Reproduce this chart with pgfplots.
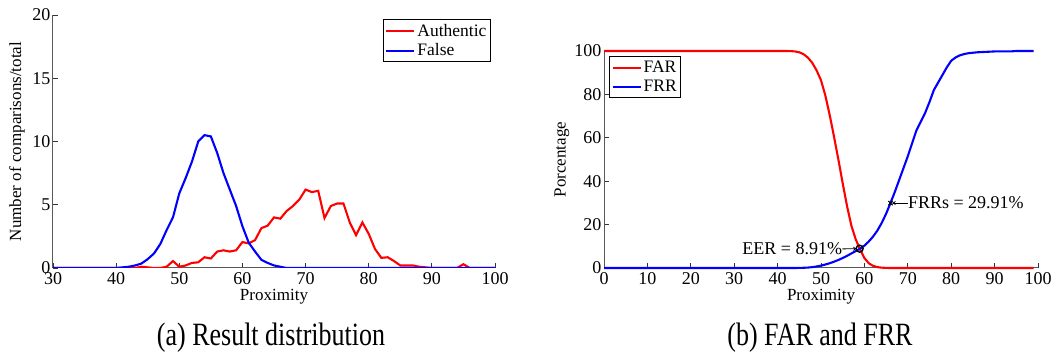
\documentclass[border=0pt]{standalone}
\usepackage{fontspec}
\setmainfont{Liberation Serif}
\usepackage{pgfplots}
\pgfplotsset{compat=1.18}
\begin{document}
\begin{tikzpicture}
\path[use as bounding box] (0pt,0pt) rectangle (1055pt,-355pt);
\pgfplotsset{
  mystyle/.style={
    scale only axis,
    axis x line=bottom, axis y line=left,
    axis line style={-, draw=gray!70!black, line width=1pt},
    tick align=inside,
    major tick length=4.5pt,
    every tick/.style={draw=gray!40!black, line width=0.8pt},
    /pgf/number format/assume math mode=true,
    tick label style={font=\fontsize{18}{18}\selectfont},
    label style={font=\fontsize{17}{17}\selectfont},
    xticklabel style={yshift=-1pt},
    yticklabel style={xshift=1pt},
    legend style={draw=black, line width=1.2pt, font=\fontsize{17.5}{19}\selectfont,
       inner xsep=2pt, inner ysep=2.5pt, row sep=2pt, cells={anchor=west}},
    legend image code/.code={\draw[#1] (0pt,0pt) -- (28pt,0pt);},
  }
}
% ---------------- left
\begin{axis}[mystyle,
  at={(53pt,-268pt)}, anchor=south west,
  width=442pt, height=253pt,
  xmin=30, xmax=100, ymin=0, ymax=20,
  xtick={30,40,...,100}, ytick={0,5,...,20},
  xlabel={Proximity}, ylabel={Number of comparisons/total},
  xlabel style={at={(axis description cs:0.5,-0.115)}, anchor=center},
  ylabel style={at={(axis description cs:-0.0814,0.5)}, anchor=center},
  legend style={at={(axis description cs:1,1)}, anchor=north east, xshift=-4pt, yshift=-4pt},
]
\addlegendimage{red, line width=2pt}
\addlegendentry{Authentic}
\addlegendimage{blue, line width=2pt}
\addlegendentry{False}
\addplot[red, line width=2.1pt, forget plot] coordinates {
(30,0)(43,0)(44,0.1)(45,0.05)(46,0)(47,0)(48,0.1)(49,0.55)(50,0.1)(51,0.2)(52,0.4)(53,0.45)
(54,0.85)(55,0.75)(56,1.3)(57,1.4)(58,1.3)(59,1.4)(60,2.05)(61,1.95)(62,2.2)(63,3.15)
(64,3.35)(65,4.0)(66,3.9)(67,4.5)(68,4.9)(69,5.4)(70,6.2)(71,6.0)(72,6.1)(73,3.95)
(74,4.9)(75,5.1)(76,5.1)(77,3.6)(78,2.6)(79,3.6)(80,2.7)(81,1.5)(82,0.8)(83,0.85)
(84,0.55)(85,0.2)(86,0.2)(87,0.2)(88,0.1)(89,0.05)(90,0)(94,0)(95,0.3)(96,0)(100,0)
};
\addplot[blue, line width=2.1pt, forget plot] coordinates {
(30,0)(40,0)(41,0.05)(42,0.1)(43,0.2)(44,0.35)(45,0.7)(46,1.15)(47,1.9)(48,3.0)(49,4.0)
(50,5.9)(51,7.1)(52,8.4)(53,10.0)(54,10.5)(55,10.4)(56,9.1)(57,7.5)(58,6.2)(59,4.9)
(60,3.3)(61,2.0)(62,1.3)(63,0.65)(64,0.4)(65,0.2)(66,0.1)(67,0)(100,0)
};
\end{axis}
% ---------------- right
\begin{axis}[mystyle,
  at={(604pt,-268pt)}, anchor=south west,
  width=434pt, height=217pt,
  xmin=0, xmax=100, ymin=0, ymax=100,
  xtick={0,10,...,100}, ytick={0,20,...,100},
  xlabel={Proximity}, ylabel={Porcentage},
  xlabel style={at={(axis description cs:0.5,-0.1336)}, anchor=center},
  ylabel style={at={(axis description cs:-0.0968,0.5)}, anchor=center},
  legend style={at={(axis description cs:0,1)}, anchor=north west, xshift=5pt, yshift=-5pt},
  clip=false,
]
\addlegendimage{red, line width=2pt}
\addlegendentry{FAR}
\addlegendimage{blue, line width=2pt}
\addlegendentry{FRR}
\addplot[red, line width=2.1pt, forget plot] coordinates {
(0,100)(42,100)(43,99.95)(44,99.8)(45,99.4)(46,98.5)(47,96.9)(48,94.5)(49,91)(50,86.5)
(51,79.5)(52,70.5)(53,60.5)(54,50)(55,39)(56,28.5)(57,19.5)(58,13.2)(59,8.6)(60,4.6)
(61,2.2)(62,1.0)(63,0.4)(64,0.15)(65,0.05)(66,0)(99,0)
};
\addplot[blue, line width=2.1pt, forget plot] coordinates {
(0,0)(44,0)(45,0.05)(46,0.1)(47,0.2)(48,0.4)(49,0.7)(50,1.1)(51,1.6)(52,2.2)(53,2.9)
(54,3.7)(55,4.6)(56,5.6)(57,6.7)(58,7.8)(59,8.91)(60,10.3)(61,12.2)(62,14.5)(63,17.3)
(64,20.8)(65,25)(66,29.91)(67,35)(68,40.5)(69,46)(70,51.5)(71,57.5)(72,63.5)(73,67.5)
(74,71.5)(75,76.5)(76,82)(77,85.5)(78,89)(79,92.5)(80,95.5)(81,97)(82,98)(83,98.6)
(84,99)(86,99.4)(88,99.6)(90,99.8)(94,99.85)(95,100)(99,100)
};
\addplot[black, only marks, mark=o, mark size=3.5pt, line width=1.4pt, forget plot] coordinates {(58.9,8.91)};
\addplot[black, only marks, mark=x, mark size=3pt, line width=1pt, forget plot] coordinates {(66,29.91)};
\draw[-stealth, line width=0.8pt] (axis cs:54.9,8.8) -- (axis cs:58.3,8.9);
\node[anchor=east, inner sep=0pt, font=\fontsize{18}{19}\selectfont] at (axis cs:54.9,8.8) {EER = 8.91\%};
\draw[-stealth, line width=0.8pt] (axis cs:70.0,29.91) -- (axis cs:66.3,29.91);
\node[anchor=west, inner sep=0pt, font=\fontsize{18}{19}\selectfont] at (axis cs:70.0,29.91) {FRRs = 29.91\%};
\end{axis}
\node at (271pt,-338pt) {\scalebox{1}[1.25]{\fontsize{26}{28}\selectfont (a) Result distribution}};
\node at (820pt,-338pt) {\scalebox{1}[1.25]{\fontsize{26}{28}\selectfont (b) FAR and FRR}};
\end{tikzpicture}
\end{document}
